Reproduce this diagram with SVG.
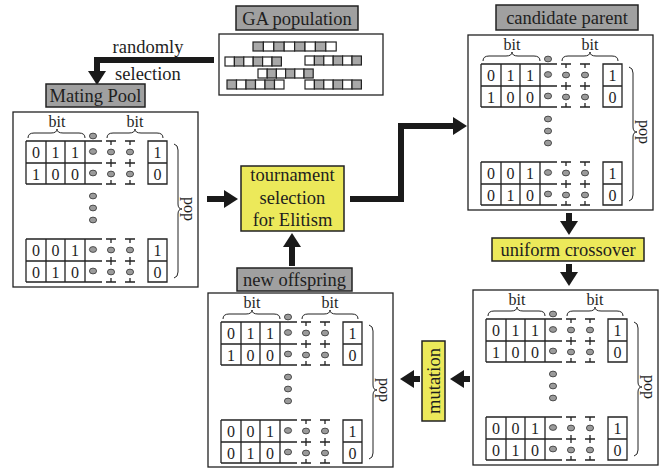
<svg xmlns="http://www.w3.org/2000/svg" width="668" height="469" viewBox="0 0 668 469" font-family="'Liberation Serif', 'DejaVu Serif', serif">
<defs>
<style>
text{font-family:'Liberation Serif','DejaVu Serif',serif;fill:#1e1e1e}
.t{font-size:18.5px;text-anchor:middle}
.d{font-size:16px;text-anchor:middle}
.lbl{fill:#a0a0a0;stroke:#222;stroke-width:1.5}
.yel{fill:#ece95a;stroke:#222;stroke-width:1.5}
.panel{fill:#fff;stroke:#222;stroke-width:1.3}
.grid{fill:none;stroke:#222;stroke-width:1.3}
.brace{fill:none;stroke:#222;stroke-width:1}
.dot{fill:#9a9a9a;stroke:#333;stroke-width:0.8}
.arrow{fill:none;stroke:#1a1a1a;stroke-width:6;stroke-linejoin:miter}
.cg{fill:#a8a8a8;stroke:#222;stroke-width:1.2}
.cw{fill:#fff;stroke:#222;stroke-width:1.2}
</style>
<marker id="ah" markerUnits="userSpaceOnUse" markerWidth="14" markerHeight="18" refX="1" refY="9" orient="auto"><path d="M0,0 L14,9 L0,18 z" fill="#1a1a1a"/></marker>
</defs>
<rect width="668" height="469" fill="#fff"/>

<g id="connectors">
<path class="arrow" marker-end="url(#ah)" d="M214,60 H97 V72"/>
<path class="arrow" marker-end="url(#ah)" d="M207,199 H225"/>
<path class="arrow" marker-end="url(#ah)" d="M350,199 H401 V126 H454"/>
<path class="arrow" marker-end="url(#ah)" d="M569,213 V222"/>
<path class="arrow" marker-end="url(#ah)" d="M569,264 V273"/>
<path class="arrow" marker-end="url(#ah)" d="M470,379 H463"/>
<path class="arrow" marker-end="url(#ah)" d="M420,379 H413"/>
<path class="arrow" marker-end="url(#ah)" d="M292,266 V246"/>
<text class="t" x="148" y="53">randomly</text>
<text class="t" x="148" y="80">selection</text>
</g>

<g id="ga-population-label">
<rect class="lbl" x="236" y="6" width="122" height="24"/>
<text class="t" x="297" y="25">GA population</text>
</g>

<g id="ga-population">
<rect class="panel" x="219" y="34" width="164" height="61"/>
<rect class="cg" x="253" y="42" width="10.4" height="9"/><rect class="cw" x="263.4" y="42" width="10.4" height="9"/><rect class="cg" x="273.8" y="42" width="10.4" height="9"/><rect class="cw" x="284.2" y="42" width="10.4" height="9"/><rect class="cg" x="294.6" y="42" width="10.4" height="9"/><rect class="cw" x="305" y="42" width="10.4" height="9"/><rect class="cg" x="315.4" y="42" width="10.4" height="9"/><rect class="cw" x="325.8" y="42" width="10.4" height="9"/>
<rect class="cw" x="225" y="57" width="9.4" height="9"/><rect class="cg" x="234.4" y="57" width="9.4" height="9"/><rect class="cw" x="243.8" y="57" width="9.4" height="9"/><rect class="cg" x="253.2" y="57" width="9.4" height="9"/><rect class="cw" x="262.6" y="57" width="9.4" height="9"/><rect class="cg" x="272" y="57" width="9.4" height="9"/>
<rect class="cw" x="305" y="56" width="9.4" height="9"/><rect class="cg" x="314.4" y="56" width="9.4" height="9"/><rect class="cw" x="323.8" y="56" width="9.4" height="9"/><rect class="cg" x="333.2" y="56" width="9.4" height="9"/><rect class="cw" x="342.6" y="56" width="9.4" height="9"/><rect class="cg" x="352" y="56" width="9.4" height="9"/>
<rect class="cw" x="258" y="69" width="9.2" height="9"/><rect class="cg" x="267.2" y="69" width="9.2" height="9"/><rect class="cw" x="276.4" y="69" width="9.2" height="9"/><rect class="cg" x="285.6" y="69" width="9.2" height="9"/><rect class="cw" x="294.8" y="69" width="9.2" height="9"/><rect class="cg" x="304" y="69" width="9.2" height="9"/>
<rect class="cg" x="227" y="80" width="9.5" height="9"/><rect class="cw" x="236.5" y="80" width="9.5" height="9"/><rect class="cg" x="246" y="80" width="9.5" height="9"/><rect class="cw" x="255.5" y="80" width="9.5" height="9"/><rect class="cg" x="265" y="80" width="9.5" height="9"/><rect class="cw" x="274.5" y="80" width="9.5" height="9"/>
<rect class="cw" x="305" y="80" width="9.4" height="9"/><rect class="cg" x="314.4" y="80" width="9.4" height="9"/><rect class="cw" x="323.8" y="80" width="9.4" height="9"/><rect class="cg" x="333.2" y="80" width="9.4" height="9"/><rect class="cw" x="342.6" y="80" width="9.4" height="9"/><rect class="cg" x="352" y="80" width="9.4" height="9"/>
</g>

<g id="mating-pool-label">
<rect class="lbl" x="46" y="84" width="99" height="23"/>
<text class="t" x="95.5" y="102">Mating Pool</text>
</g>

<g id="mating-pool" transform="translate(13,112)">
<rect class="panel" x="0" y="0" width="185" height="175"/>
<text class="d" x="44" y="15">bit</text><text class="d" x="122" y="15">bit</text>
<path class="brace" d="M15,26 Q15,21 21,21 H38 Q44,21 44,17 Q44,21 50,21 H66 Q72,21 72,26"/>
<path class="brace" d="M94,26 Q94,21 100,21 H116 Q122,21 122,17 Q122,21 128,21 H144 Q150,21 150,26"/>
<ellipse class="dot" cx="80" cy="24" rx="3.6" ry="2.9"/>
<path class="grid" d="M13,29 H89 M13,51 H89 M13,72 H89 M13,29 V72 M33,29 V72 M52,29 V72 M72,29 V72 M135,29 H154 V72 H135 Z M135,51 H154 M93,29 H103 M98,29 V33 M93,51 H103 M98,47 V55 M93,72 H103 M98,68 V72 M112,29 H122 M117,29 V33 M112,51 H122 M117,47 V55 M112,72 H122 M117,68 V72"/>
<path class="grid" d="M13,127 H89 M13,149 H89 M13,170 H89 M13,127 V170 M33,127 V170 M52,127 V170 M72,127 V170 M135,127 H154 V170 H135 Z M135,149 H154 M93,127 H103 M98,127 V131 M93,149 H103 M98,145 V153 M93,170 H103 M98,166 V170 M112,127 H122 M117,127 V131 M112,149 H122 M117,145 V153 M112,170 H122 M117,166 V170"/>
<ellipse class="dot" cx="80" cy="39.5" rx="3.6" ry="2.9"/><ellipse class="dot" cx="98" cy="40" rx="3.6" ry="2.9"/><ellipse class="dot" cx="117" cy="40" rx="3.6" ry="2.9"/>
<ellipse class="dot" cx="80" cy="61" rx="3.6" ry="2.9"/><ellipse class="dot" cx="98" cy="62" rx="3.6" ry="2.9"/><ellipse class="dot" cx="117" cy="62" rx="3.6" ry="2.9"/>
<ellipse class="dot" cx="80" cy="137.5" rx="3.6" ry="2.9"/><ellipse class="dot" cx="98" cy="138" rx="3.6" ry="2.9"/><ellipse class="dot" cx="117" cy="138" rx="3.6" ry="2.9"/>
<ellipse class="dot" cx="80" cy="159" rx="3.6" ry="2.9"/><ellipse class="dot" cx="98" cy="160" rx="3.6" ry="2.9"/><ellipse class="dot" cx="117" cy="160" rx="3.6" ry="2.9"/>
<ellipse class="dot" cx="80" cy="84" rx="3.6" ry="2.9"/><ellipse class="dot" cx="80" cy="96" rx="3.6" ry="2.9"/><ellipse class="dot" cx="80" cy="108" rx="3.6" ry="2.9"/>
<text class="d" x="23" y="46">0</text><text class="d" x="42.5" y="46">1</text><text class="d" x="62" y="46">1</text><text class="d" x="144.5" y="46">1</text>
<text class="d" x="23" y="67.5">1</text><text class="d" x="42.5" y="67.5">0</text><text class="d" x="62" y="67.5">0</text><text class="d" x="144.5" y="67.5">0</text>
<text class="d" x="23" y="144">0</text><text class="d" x="42.5" y="144">0</text><text class="d" x="62" y="144">1</text><text class="d" x="144.5" y="144">1</text>
<text class="d" x="23" y="165.5">0</text><text class="d" x="42.5" y="165.5">1</text><text class="d" x="62" y="165.5">0</text><text class="d" x="144.5" y="165.5">0</text>
<path class="brace" d="M161,32 Q165,33 165,38 V92 Q165,97 169,97 Q165,97 165,102 V160 Q165,165 161,166"/>
<text class="d" transform="translate(171,97) rotate(90)">pop</text>
</g>

<g id="tournament">
<rect class="yel" x="241" y="166" width="103" height="65"/>
<text class="t" x="292.5" y="181">tournament</text>
<text class="t" x="292.5" y="204">selection</text>
<text class="t" x="292.5" y="226">for Elitism</text>
</g>

<g id="candidate-parent-label">
<rect class="lbl" x="496" y="5" width="142" height="25"/>
<text class="t" x="567" y="24">candidate parent</text>
</g>

<g id="candidate-parent" transform="translate(468,35)">
<rect class="panel" x="0" y="0" width="185" height="175"/>
<text class="d" x="44" y="15">bit</text><text class="d" x="122" y="15">bit</text>
<path class="brace" d="M15,26 Q15,21 21,21 H38 Q44,21 44,17 Q44,21 50,21 H66 Q72,21 72,26"/>
<path class="brace" d="M94,26 Q94,21 100,21 H116 Q122,21 122,17 Q122,21 128,21 H144 Q150,21 150,26"/>
<ellipse class="dot" cx="80" cy="24" rx="3.6" ry="2.9"/>
<path class="grid" d="M13,29 H89 M13,51 H89 M13,72 H89 M13,29 V72 M33,29 V72 M52,29 V72 M72,29 V72 M135,29 H154 V72 H135 Z M135,51 H154 M93,29 H103 M98,29 V33 M93,51 H103 M98,47 V55 M93,72 H103 M98,68 V72 M112,29 H122 M117,29 V33 M112,51 H122 M117,47 V55 M112,72 H122 M117,68 V72"/>
<path class="grid" d="M13,127 H89 M13,149 H89 M13,170 H89 M13,127 V170 M33,127 V170 M52,127 V170 M72,127 V170 M135,127 H154 V170 H135 Z M135,149 H154 M93,127 H103 M98,127 V131 M93,149 H103 M98,145 V153 M93,170 H103 M98,166 V170 M112,127 H122 M117,127 V131 M112,149 H122 M117,145 V153 M112,170 H122 M117,166 V170"/>
<ellipse class="dot" cx="80" cy="39.5" rx="3.6" ry="2.9"/><ellipse class="dot" cx="98" cy="40" rx="3.6" ry="2.9"/><ellipse class="dot" cx="117" cy="40" rx="3.6" ry="2.9"/>
<ellipse class="dot" cx="80" cy="61" rx="3.6" ry="2.9"/><ellipse class="dot" cx="98" cy="62" rx="3.6" ry="2.9"/><ellipse class="dot" cx="117" cy="62" rx="3.6" ry="2.9"/>
<ellipse class="dot" cx="80" cy="137.5" rx="3.6" ry="2.9"/><ellipse class="dot" cx="98" cy="138" rx="3.6" ry="2.9"/><ellipse class="dot" cx="117" cy="138" rx="3.6" ry="2.9"/>
<ellipse class="dot" cx="80" cy="159" rx="3.6" ry="2.9"/><ellipse class="dot" cx="98" cy="160" rx="3.6" ry="2.9"/><ellipse class="dot" cx="117" cy="160" rx="3.6" ry="2.9"/>
<ellipse class="dot" cx="80" cy="84" rx="3.6" ry="2.9"/><ellipse class="dot" cx="80" cy="96" rx="3.6" ry="2.9"/><ellipse class="dot" cx="80" cy="108" rx="3.6" ry="2.9"/>
<text class="d" x="23" y="46">0</text><text class="d" x="42.5" y="46">1</text><text class="d" x="62" y="46">1</text><text class="d" x="144.5" y="46">1</text>
<text class="d" x="23" y="67.5">1</text><text class="d" x="42.5" y="67.5">0</text><text class="d" x="62" y="67.5">0</text><text class="d" x="144.5" y="67.5">0</text>
<text class="d" x="23" y="144">0</text><text class="d" x="42.5" y="144">0</text><text class="d" x="62" y="144">1</text><text class="d" x="144.5" y="144">1</text>
<text class="d" x="23" y="165.5">0</text><text class="d" x="42.5" y="165.5">1</text><text class="d" x="62" y="165.5">0</text><text class="d" x="144.5" y="165.5">0</text>
<path class="brace" d="M161,32 Q165,33 165,38 V92 Q165,97 169,97 Q165,97 165,102 V160 Q165,165 161,166"/>
<text class="d" transform="translate(171,97) rotate(90)">pop</text>
</g>

<g id="uniform-crossover">
<rect class="yel" x="492" y="238" width="152" height="23"/>
<text class="t" x="568" y="256">uniform crossover</text>
</g>

<g id="crossover-result" transform="translate(473,290)">
<rect class="panel" x="0" y="0" width="185" height="175"/>
<text class="d" x="44" y="15">bit</text><text class="d" x="122" y="15">bit</text>
<path class="brace" d="M15,26 Q15,21 21,21 H38 Q44,21 44,17 Q44,21 50,21 H66 Q72,21 72,26"/>
<path class="brace" d="M94,26 Q94,21 100,21 H116 Q122,21 122,17 Q122,21 128,21 H144 Q150,21 150,26"/>
<ellipse class="dot" cx="80" cy="24" rx="3.6" ry="2.9"/>
<path class="grid" d="M13,29 H89 M13,51 H89 M13,72 H89 M13,29 V72 M33,29 V72 M52,29 V72 M72,29 V72 M135,29 H154 V72 H135 Z M135,51 H154 M93,29 H103 M98,29 V33 M93,51 H103 M98,47 V55 M93,72 H103 M98,68 V72 M112,29 H122 M117,29 V33 M112,51 H122 M117,47 V55 M112,72 H122 M117,68 V72"/>
<path class="grid" d="M13,127 H89 M13,149 H89 M13,170 H89 M13,127 V170 M33,127 V170 M52,127 V170 M72,127 V170 M135,127 H154 V170 H135 Z M135,149 H154 M93,127 H103 M98,127 V131 M93,149 H103 M98,145 V153 M93,170 H103 M98,166 V170 M112,127 H122 M117,127 V131 M112,149 H122 M117,145 V153 M112,170 H122 M117,166 V170"/>
<ellipse class="dot" cx="80" cy="39.5" rx="3.6" ry="2.9"/><ellipse class="dot" cx="98" cy="40" rx="3.6" ry="2.9"/><ellipse class="dot" cx="117" cy="40" rx="3.6" ry="2.9"/>
<ellipse class="dot" cx="80" cy="61" rx="3.6" ry="2.9"/><ellipse class="dot" cx="98" cy="62" rx="3.6" ry="2.9"/><ellipse class="dot" cx="117" cy="62" rx="3.6" ry="2.9"/>
<ellipse class="dot" cx="80" cy="137.5" rx="3.6" ry="2.9"/><ellipse class="dot" cx="98" cy="138" rx="3.6" ry="2.9"/><ellipse class="dot" cx="117" cy="138" rx="3.6" ry="2.9"/>
<ellipse class="dot" cx="80" cy="159" rx="3.6" ry="2.9"/><ellipse class="dot" cx="98" cy="160" rx="3.6" ry="2.9"/><ellipse class="dot" cx="117" cy="160" rx="3.6" ry="2.9"/>
<ellipse class="dot" cx="80" cy="84" rx="3.6" ry="2.9"/><ellipse class="dot" cx="80" cy="96" rx="3.6" ry="2.9"/><ellipse class="dot" cx="80" cy="108" rx="3.6" ry="2.9"/>
<text class="d" x="23" y="46">0</text><text class="d" x="42.5" y="46">1</text><text class="d" x="62" y="46">1</text><text class="d" x="144.5" y="46">1</text>
<text class="d" x="23" y="67.5">1</text><text class="d" x="42.5" y="67.5">0</text><text class="d" x="62" y="67.5">0</text><text class="d" x="144.5" y="67.5">0</text>
<text class="d" x="23" y="144">0</text><text class="d" x="42.5" y="144">0</text><text class="d" x="62" y="144">1</text><text class="d" x="144.5" y="144">1</text>
<text class="d" x="23" y="165.5">0</text><text class="d" x="42.5" y="165.5">1</text><text class="d" x="62" y="165.5">0</text><text class="d" x="144.5" y="165.5">0</text>
<path class="brace" d="M161,32 Q165,33 165,38 V92 Q165,97 169,97 Q165,97 165,102 V160 Q165,165 161,166"/>
<text class="d" transform="translate(171,97) rotate(90)">pop</text>
</g>

<g id="mutation">
<rect class="yel" x="422" y="341" width="23" height="80"/>
<text class="t" transform="translate(439.5,381) rotate(-90)">mutation</text>
</g>

<g id="new-offspring-label">
<rect class="lbl" x="237" y="268" width="115" height="23"/>
<text class="t" x="294.5" y="286">new offspring</text>
</g>

<g id="new-offspring" transform="translate(208,293)">
<rect class="panel" x="0" y="0" width="185" height="174"/>
<text class="d" x="44" y="15">bit</text><text class="d" x="122" y="15">bit</text>
<path class="brace" d="M15,26 Q15,21 21,21 H38 Q44,21 44,17 Q44,21 50,21 H66 Q72,21 72,26"/>
<path class="brace" d="M94,26 Q94,21 100,21 H116 Q122,21 122,17 Q122,21 128,21 H144 Q150,21 150,26"/>
<ellipse class="dot" cx="80" cy="24" rx="3.6" ry="2.9"/>
<path class="grid" d="M13,29 H89 M13,51 H89 M13,72 H89 M13,29 V72 M33,29 V72 M52,29 V72 M72,29 V72 M135,29 H154 V72 H135 Z M135,51 H154 M93,29 H103 M98,29 V33 M93,51 H103 M98,47 V55 M93,72 H103 M98,68 V72 M112,29 H122 M117,29 V33 M112,51 H122 M117,47 V55 M112,72 H122 M117,68 V72"/>
<path class="grid" d="M13,127 H89 M13,149 H89 M13,170 H89 M13,127 V170 M33,127 V170 M52,127 V170 M72,127 V170 M135,127 H154 V170 H135 Z M135,149 H154 M93,127 H103 M98,127 V131 M93,149 H103 M98,145 V153 M93,170 H103 M98,166 V170 M112,127 H122 M117,127 V131 M112,149 H122 M117,145 V153 M112,170 H122 M117,166 V170"/>
<ellipse class="dot" cx="80" cy="39.5" rx="3.6" ry="2.9"/><ellipse class="dot" cx="98" cy="40" rx="3.6" ry="2.9"/><ellipse class="dot" cx="117" cy="40" rx="3.6" ry="2.9"/>
<ellipse class="dot" cx="80" cy="61" rx="3.6" ry="2.9"/><ellipse class="dot" cx="98" cy="62" rx="3.6" ry="2.9"/><ellipse class="dot" cx="117" cy="62" rx="3.6" ry="2.9"/>
<ellipse class="dot" cx="80" cy="137.5" rx="3.6" ry="2.9"/><ellipse class="dot" cx="98" cy="138" rx="3.6" ry="2.9"/><ellipse class="dot" cx="117" cy="138" rx="3.6" ry="2.9"/>
<ellipse class="dot" cx="80" cy="159" rx="3.6" ry="2.9"/><ellipse class="dot" cx="98" cy="160" rx="3.6" ry="2.9"/><ellipse class="dot" cx="117" cy="160" rx="3.6" ry="2.9"/>
<ellipse class="dot" cx="80" cy="84" rx="3.6" ry="2.9"/><ellipse class="dot" cx="80" cy="96" rx="3.6" ry="2.9"/><ellipse class="dot" cx="80" cy="108" rx="3.6" ry="2.9"/>
<text class="d" x="23" y="46">0</text><text class="d" x="42.5" y="46">1</text><text class="d" x="62" y="46">1</text><text class="d" x="144.5" y="46">1</text>
<text class="d" x="23" y="67.5">1</text><text class="d" x="42.5" y="67.5">0</text><text class="d" x="62" y="67.5">0</text><text class="d" x="144.5" y="67.5">0</text>
<text class="d" x="23" y="144">0</text><text class="d" x="42.5" y="144">0</text><text class="d" x="62" y="144">1</text><text class="d" x="144.5" y="144">1</text>
<text class="d" x="23" y="165.5">0</text><text class="d" x="42.5" y="165.5">1</text><text class="d" x="62" y="165.5">0</text><text class="d" x="144.5" y="165.5">0</text>
<path class="brace" d="M161,32 Q165,33 165,38 V92 Q165,97 169,97 Q165,97 165,102 V160 Q165,165 161,166"/>
<text class="d" transform="translate(171,97) rotate(90)">pop</text>
</g>
</svg>
